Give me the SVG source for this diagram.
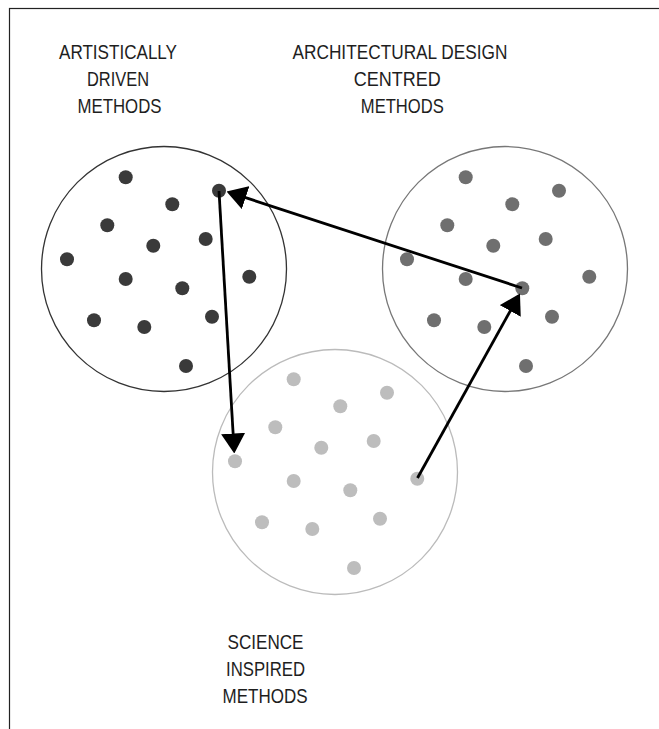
<svg xmlns="http://www.w3.org/2000/svg" width="659" height="729" viewBox="0 0 659 729">
<style>
.lbl{font-family:"Liberation Sans",Arial,sans-serif;font-size:21px;fill:#1e1e1e;text-anchor:middle}
.ring{fill:none;stroke-width:1.3}
.conn{stroke:#000;stroke-width:2.8;fill:none;marker-end:url(#ah)}
.d1{fill:#3a3a3a}.d2{fill:#6f6f6f}.d3{fill:#bdbdbd}
</style>
<defs>
<marker id="ah" viewBox="0 0 20 24" refX="17" refY="12" markerWidth="20" markerHeight="24" markerUnits="userSpaceOnUse" orient="auto">
<path d="M0,0 L20,12 L0,24 Z" fill="#000"/>
</marker>
<g id="pattern">
<circle cx="0" cy="0" r="7"/><circle cx="93.3" cy="13.4" r="7"/><circle cx="46.6" cy="27" r="7"/>
<circle cx="-18.4" cy="48" r="7"/><circle cx="80" cy="61.7" r="7"/><circle cx="27.6" cy="68.4" r="7"/>
<circle cx="-58.7" cy="82" r="7"/><circle cx="0" cy="101.7" r="7"/><circle cx="123.6" cy="99.4" r="7"/>
<circle cx="56.6" cy="111" r="7"/><circle cx="-31.7" cy="143" r="7"/><circle cx="86.3" cy="139.4" r="7"/>
<circle cx="18.6" cy="149.7" r="7"/><circle cx="60.3" cy="188.7" r="7"/>
</g>
</defs>
<rect x="9.5" y="8.5" width="700" height="800" fill="none" stroke="#222" stroke-width="1.2"/>
<g id="artistic">
<circle class="ring" cx="164" cy="269" r="122.5" stroke="#333"/>
<use href="#pattern" class="d1" x="125.7" y="177.3"/>
<text class="lbl"><tspan x="118" y="59" textLength="118" lengthAdjust="spacingAndGlyphs">ARTISTICALLY</tspan><tspan x="118" y="86" textLength="62" lengthAdjust="spacingAndGlyphs">DRIVEN</tspan><tspan x="119.5" y="112.7" textLength="84" lengthAdjust="spacingAndGlyphs">METHODS</tspan></text>
</g>
<g id="architectural">
<circle class="ring" cx="505" cy="269" r="122.5" stroke="#777"/>
<use href="#pattern" class="d2" x="465.7" y="177.3"/>
<text class="lbl"><tspan x="400" y="59" textLength="215" lengthAdjust="spacingAndGlyphs">ARCHITECTURAL DESIGN</tspan><tspan x="397.3" y="86" textLength="87" lengthAdjust="spacingAndGlyphs">CENTRED</tspan><tspan x="402.3" y="112.7" textLength="83" lengthAdjust="spacingAndGlyphs">METHODS</tspan></text>
</g>
<g id="science">
<circle class="ring" cx="335" cy="472" r="122.5" stroke="#bbb"/>
<use href="#pattern" class="d3" x="293.7" y="379.3"/>
<text class="lbl"><tspan x="265.5" y="649" textLength="76" lengthAdjust="spacingAndGlyphs">SCIENCE</tspan><tspan x="265.5" y="676" textLength="79" lengthAdjust="spacingAndGlyphs">INSPIRED</tspan><tspan x="265" y="702.7" textLength="85" lengthAdjust="spacingAndGlyphs">METHODS</tspan></text>
</g>
<g id="connectors">
<line class="conn" x1="522" y1="288" x2="229.4" y2="192.4"/>
<line class="conn" x1="219" y1="191" x2="234.1" y2="450.5"/>
<line class="conn" x1="417.5" y1="478" x2="518.5" y2="296.1"/>
</g>
</svg>
